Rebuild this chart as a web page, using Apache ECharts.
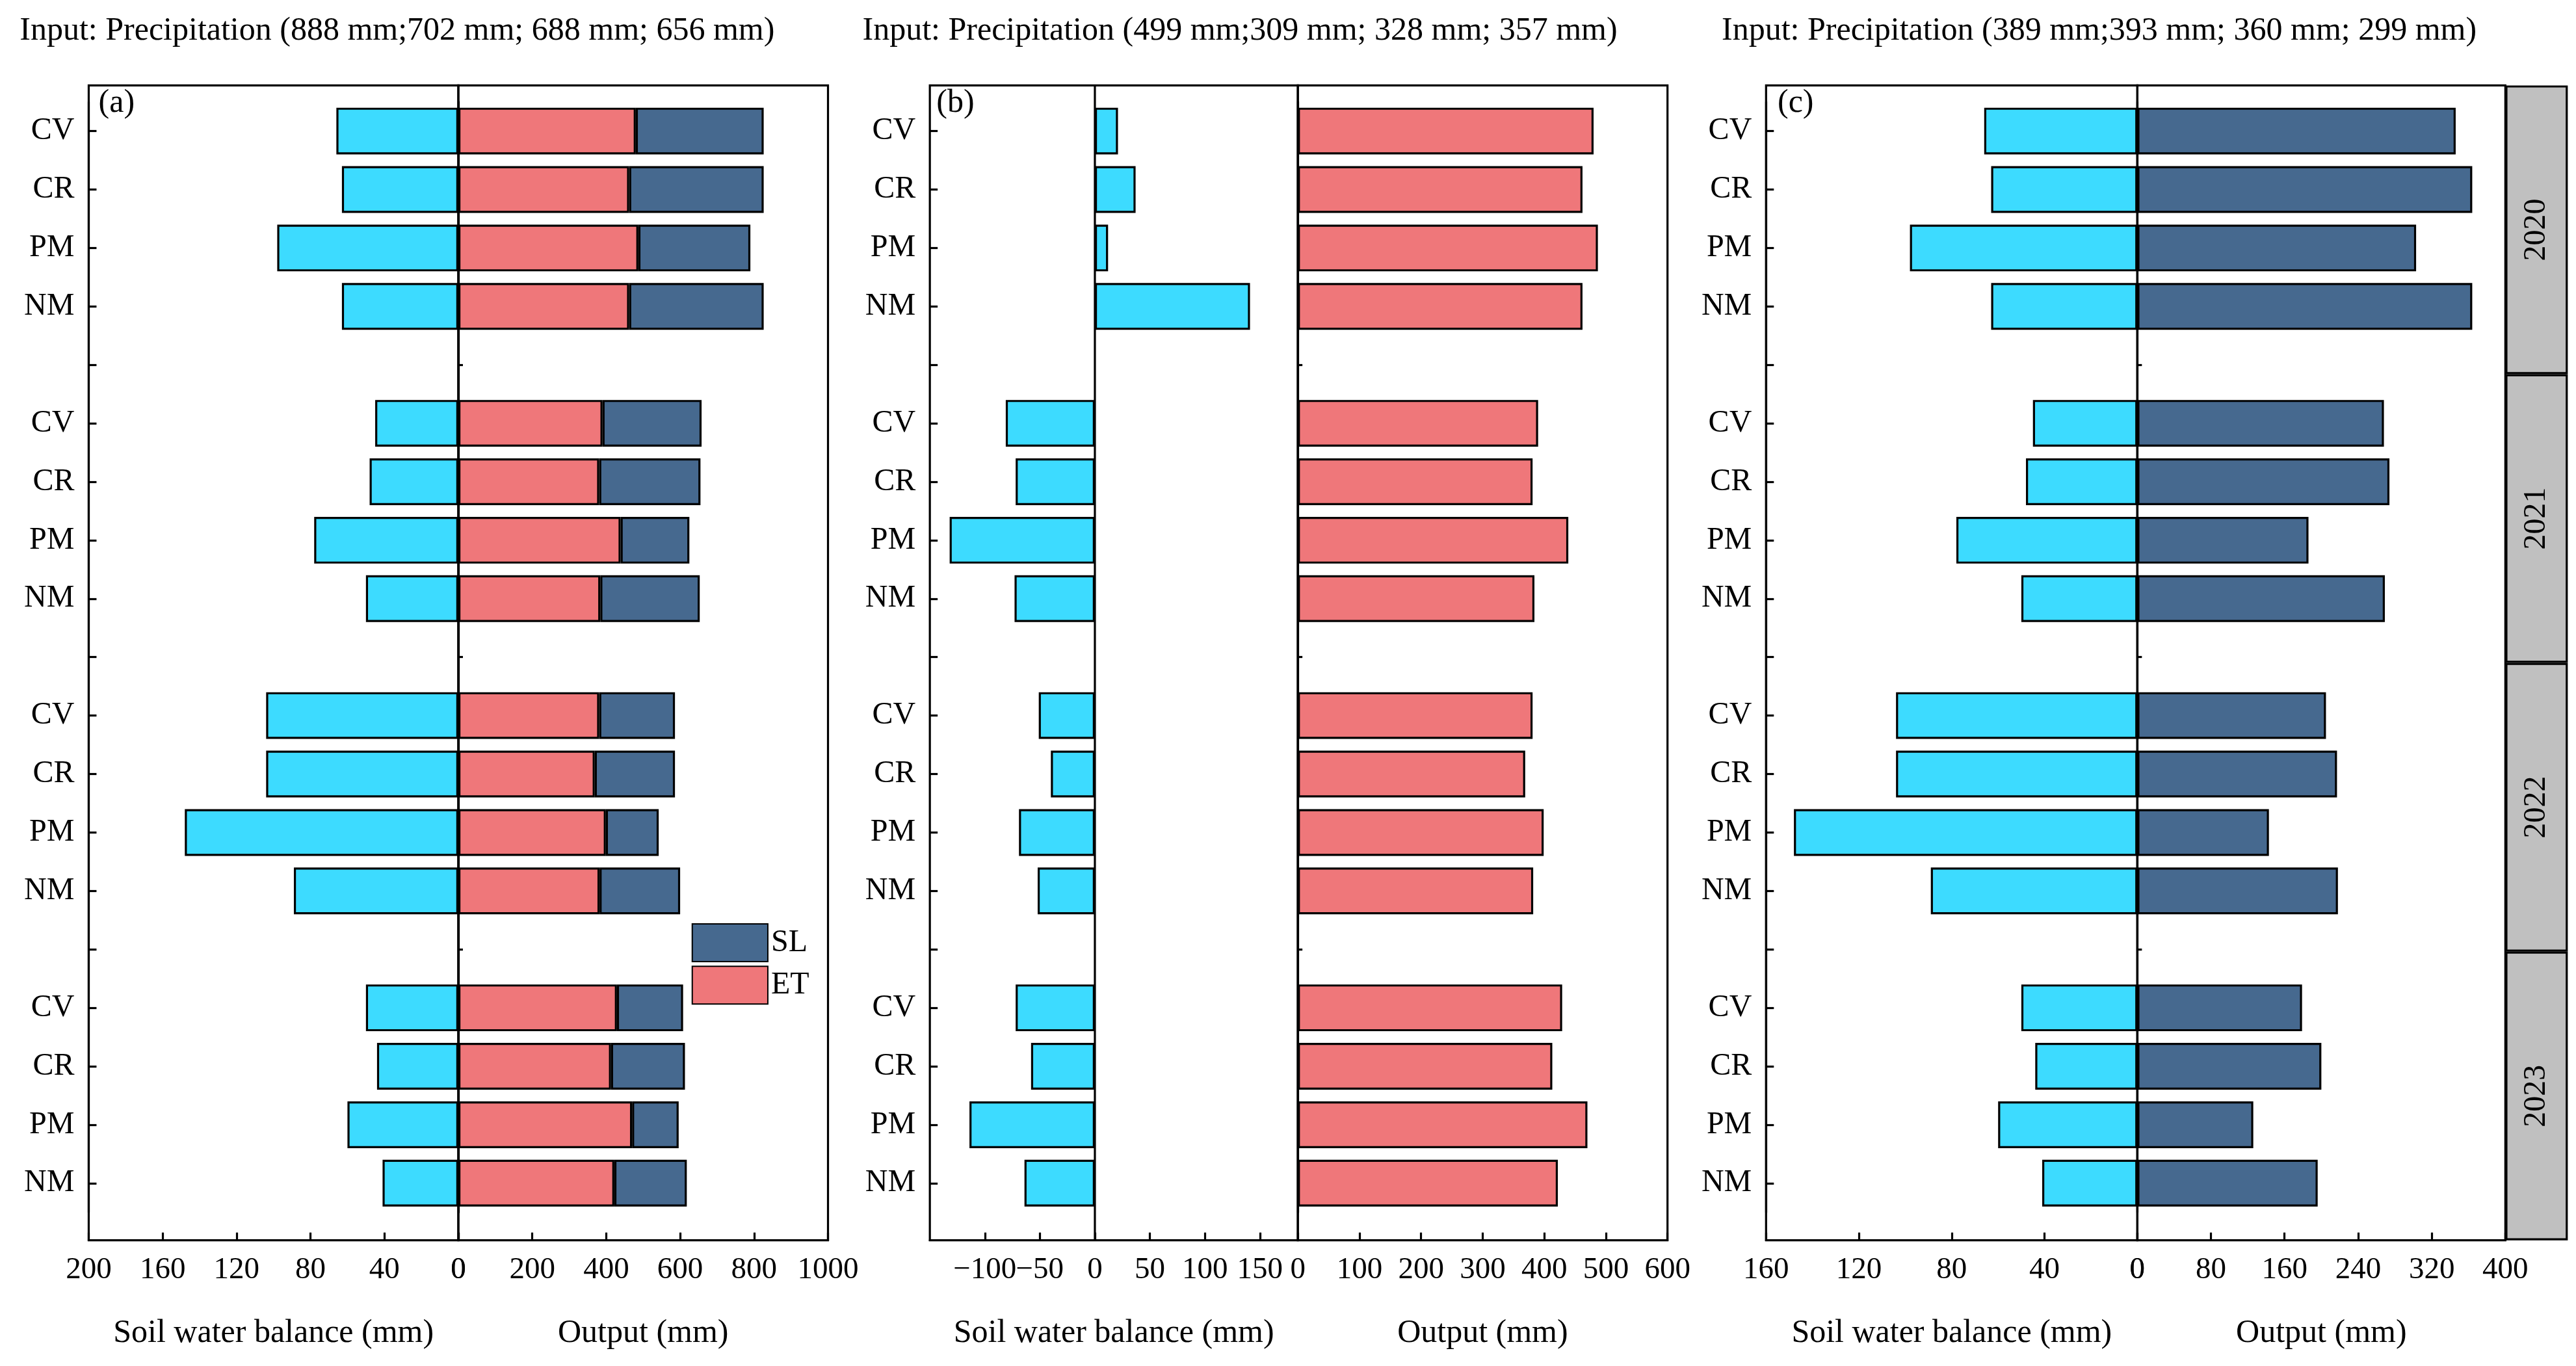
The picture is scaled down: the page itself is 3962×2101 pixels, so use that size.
<!DOCTYPE html>
<html><head><meta charset="utf-8">
<script src="https://cdn.jsdelivr.net/npm/echarts@6/dist/echarts.min.js"></script>
<style>html,body{margin:0;padding:0;background:#fff}#c{width:3962px;height:2101px}</style>
</head><body><div id="c"></div>
<script>
const S = 3962/1568;
const treatments = ['CV','CR','PM','NM'];
const years = ['2020','2021','2022','2023'];
// per year, order CV, CR, PM, NM
const swbAC = [[66,63,98,63],[45,48,78,50],[104,104,148,89],[50,44,60,41]];
const swbB = [[21,37,12,141],[-81,-72,-132,-73],[-51,-40,-69,-52],[-72,-58,-114,-64]];
const etAll = [[480,462,487,462],[390,381,439,384],[381,369,399,382],[429,413,470,422]];
const slAll = [[346,364,303,364],[268,274,186,269],[205,217,143,218],[179,200,126,196]];
const titles = ['Input: Precipitation (888 mm;702 mm; 688 mm; 656 mm)','Input: Precipitation (499 mm;309 mm; 328 mm; 357 mm)','Input: Precipitation (389 mm;393 mm; 360 mm; 299 mm)'];

const cats = [];
years.forEach((y,i)=>{ treatments.forEach(t=>cats.push(t)); if(i<years.length-1) cats.push(''); });
function flat(arr){ const out=[]; arr.forEach((r,i)=>{ r.forEach(v=>out.push(v)); if(i<arr.length-1) out.push('-'); }); return out; }

const W=3962,H=2101;
const FONT='Liberation Serif';
const LW=3.2;
const grid=[],xAxis=[],yAxis=[],series=[];
const frameTop=52*S, frameBottom=H-755*S, dataTop=62*S, dataBottom=H-738*S;
const barCommon={type:'bar',barCategoryGap:'20%',itemStyle:{borderColor:'#000',borderWidth:LW}};
const CYAN='#3ddbff',RED='#ef777a',DARK='#46698f';

function half(l,r,ax,showLabels,sers,name,zeroLine){
  const fi=grid.length;
  grid.push({left:l*S,width:(r-l)*S,top:frameTop,bottom:frameBottom,show:true,borderColor:'#000',borderWidth:LW,backgroundColor:'transparent'});
  xAxis.push(Object.assign({type:'value',gridIndex:fi,splitLine:{show:false},
    axisLine:{show:true,onZero:false,lineStyle:{color:'#000',width:LW}},
    axisTick:{inside:true,length:12,lineStyle:{color:'#000',width:LW}},
    axisLabel:{color:'#000',fontFamily:FONT,fontSize:47,margin:22,formatter:v=>String(v).replace('-','\u2212')},
    name:name,nameLocation:'middle',nameGap:118,nameTextStyle:{color:'#000',fontFamily:FONT,fontSize:50}},ax));
  yAxis.push({type:'value',gridIndex:fi,show:false,min:0,max:1});
  const xf=xAxis.length-1, yf=yAxis.length-1;
  if(zeroLine) series.push({type:'line',xAxisIndex:xf,yAxisIndex:yf,data:[[0,0],[0,1]],symbol:'none',lineStyle:{color:'#000',width:LW},silent:true,z:5});
  const di=grid.length;
  grid.push({left:l*S,width:(r-l)*S,top:dataTop,bottom:dataBottom});
  xAxis.push(Object.assign({},ax,{type:'value',gridIndex:di,show:false}));
  yAxis.push({type:'category',gridIndex:di,data:cats,inverse:true,
    axisLine:{show:!zeroLine,onZero:false,lineStyle:{color:'#000',width:LW}},
    axisTick:{show:true,inside:true,alignWithLabel:true,length:showLabels?12:7,lineStyle:{color:'#000',width:LW}},
    axisLabel:{show:showLabels,color:'#000',fontFamily:FONT,fontSize:48,margin:22}});
  const xd=xAxis.length-1, yd=yAxis.length-1;
  sers.forEach(s=>series.push(Object.assign({},barCommon,s,{xAxisIndex:xd,yAxisIndex:yd,itemStyle:Object.assign({},barCommon.itemStyle,{color:s.color})})));
}

// panel a
half(54,279,{min:0,max:200,interval:40,inverse:true},true,[{name:'SWB',data:flat(swbAC),color:CYAN}],'Soil water balance (mm)');
half(279,504,{min:0,max:1000,interval:200},false,[{name:'ET',stack:'a',data:flat(etAll),color:RED},{name:'SL',stack:'a',data:flat(slAll),color:DARK}],'Output (mm)');
// panel b
half(566,790,{min:-150,max:184.5,interval:50,axisLabel:{showMaxLabel:false,color:'#000',fontFamily:FONT,fontSize:47,margin:22,formatter:v=>String(v).replace('-','\u2212')}},true,[{name:'SWB',data:flat(swbB),color:CYAN}],'Soil water balance (mm)',true);
half(790,1015,{min:0,max:600,interval:100},false,[{name:'ET',data:flat(etAll),color:RED}],'Output (mm)');
// panel c
half(1075,1301,{min:0,max:160,interval:40,inverse:true},true,[{name:'SWB',data:flat(swbAC),color:CYAN}],'Soil water balance (mm)');
half(1301,1525,{min:0,max:400,interval:80},false,[{name:'SL',data:flat(slAll),color:DARK}],'Output (mm)');
// year strip
const gi=grid.length;
grid.push({left:1525*S,width:38*S,top:frameTop,bottom:frameBottom});
xAxis.push({type:'value',gridIndex:gi,min:0,max:1,show:false});
yAxis.push({type:'category',gridIndex:gi,data:years,inverse:true,show:false});
series.push({type:'bar',xAxisIndex:xAxis.length-1,yAxisIndex:yAxis.length-1,barWidth:'100%',data:years.map(()=>1),
  itemStyle:{color:'#c0c0c0',borderColor:'#000',borderWidth:LW},
  label:{show:true,position:'inside',rotate:90,formatter:p=>years[p.dataIndex],color:'#000',fontFamily:FONT,fontSize:48}});

const graphic=[];
[[12,20],[525,20],[1048,20]].forEach((p,i)=>graphic.push({type:'text',left:p[0]*S,top:(p[1]-11)*S,style:{text:titles[i],font:`50px "${FONT}"`,fill:'#000'}}));
[['(a)',60],['(b)',570],['(c)',1082]].forEach(p=>graphic.push({type:'text',left:p[1]*S,top:53*S,style:{text:p[0],font:`50px "${FONT}"`,fill:'#000'}}));

const chart=echarts.init(document.getElementById('c'));
chart.setOption({animation:false,backgroundColor:'#fff',grid,xAxis,yAxis,series,graphic,
  legend:{data:['SL','ET'],orient:'vertical',left:419*S,top:560*S,itemWidth:46*S,itemHeight:23*S,itemGap:2*S,
    textStyle:{fontFamily:FONT,fontSize:48,color:'#000'},icon:'rect'}});
</script></body></html>
